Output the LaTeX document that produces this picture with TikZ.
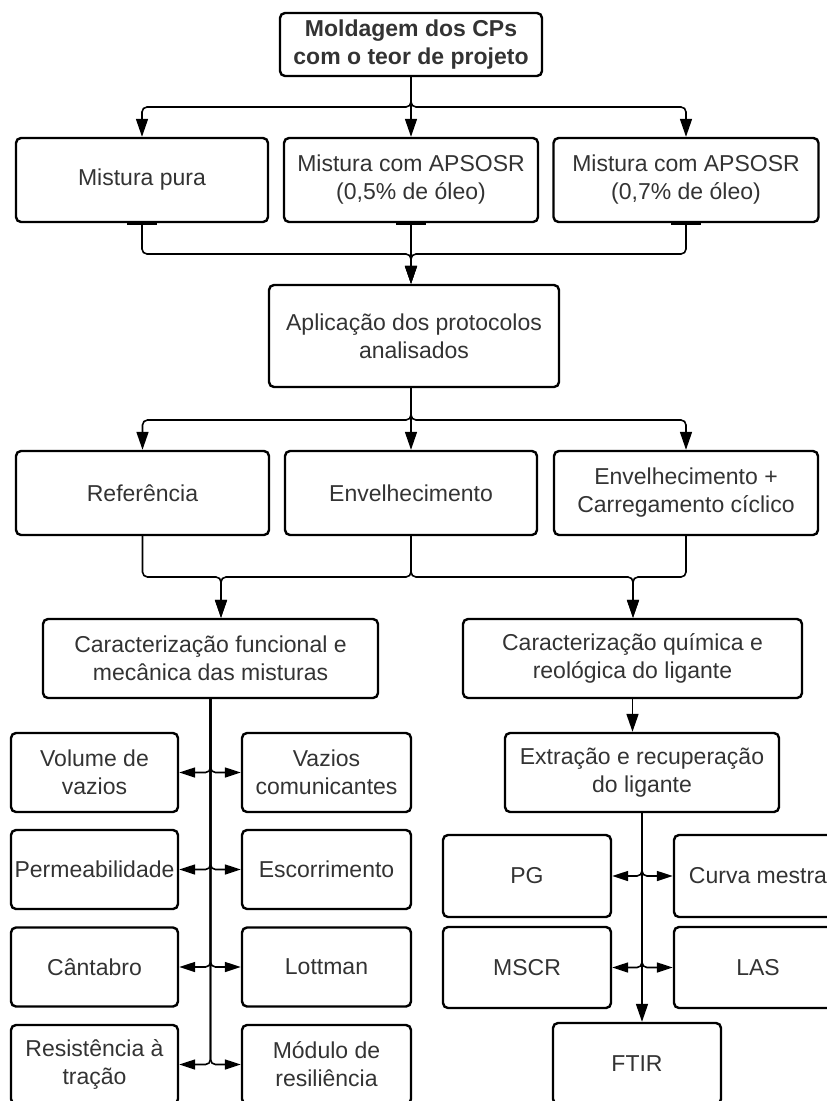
\documentclass[tikz,border=0pt]{standalone}
\usepackage{fontspec}
\setmainfont{Liberation Sans}
\usetikzlibrary{arrows.meta}

\begin{document}
\begin{tikzpicture}
        [x=1pt,y=-1pt,every node/.style={shape=rectangle,rounded corners=5pt,
        draw,line width=2.4pt,align=center,inner sep=2pt,text=black!80,
        font=\fontsize{23}{28}\selectfont},
        conn/.style={line width=1.6pt,rounded corners=5pt,
          -{Triangle[length=18pt,width=12pt]}},
        dconn/.style={line width=1.6pt,rounded corners=5pt,
          -{Triangle[length=16pt,width=10pt]}},
        tab/.style={line width=2.2pt}]
        \useasboundingbox (0,0) rectangle (827,1101);
        %% top
        \node[minimum width=262pt,minimum height=63pt] (mold) at (411,44.5)
          {\bfseries Moldagem dos CPs\\ \bfseries com o teor de projeto};
        \node[minimum width=252pt,minimum height=84pt] (pura) at (142,180) {Mistura pura};
        \node[minimum width=254pt,minimum height=84pt] (apsoA) at (411,180)
          {Mistura com APSOSR\\(0,5\% de óleo)};
        \node[minimum width=265pt,minimum height=84pt] (apsoB) at (686,180)
          {Mistura com APSOSR\\(0,7\% de óleo)};
        \node[minimum width=290pt,minimum height=102pt] (aplic) at (414,336)
          {Aplicação dos protocolos\\analisados};
        %% protocolos
        \node[minimum width=253pt,minimum height=84pt] (ref) at (142.5,493) {Referência};
        \node[minimum width=252pt,minimum height=84pt] (env) at (411,493) {Envelhecimento};
        \node[minimum width=264pt,minimum height=84pt] (envc) at (686,493)
          {Envelhecimento +\\Carregamento cíclico};
        \node[minimum width=335pt,minimum height=79pt] (cf) at (210.5,658.5)
          {Caracterização funcional e\\mecânica das misturas};
        \node[minimum width=339pt,minimum height=79pt] (cq) at (632.5,658.5)
          {Caracterização química e\\reológica do ligante};
        %% ensaios das misturas
        \node[minimum width=167pt,minimum height=79pt] (vv) at (94.5,772.5) {Volume de\\vazios};
        \node[minimum width=169pt,minimum height=79pt] (vc) at (326.5,772.5) {Vazios\\comunicantes};
        \node[minimum width=167pt,minimum height=79pt] (perm) at (94.5,869.5) {Permeabilidade};
        \node[minimum width=169pt,minimum height=79pt] (esc) at (326.5,869.5) {Escorrimento};
        \node[minimum width=167pt,minimum height=79pt] (cant) at (94.5,967) {Cântabro};
        \node[minimum width=169pt,minimum height=79pt] (lott) at (326.5,967) {Lottman};
        \node[minimum width=167pt,minimum height=79pt] (rt) at (94.5,1064.5) {Resistência à\\tração};
        \node[minimum width=169pt,minimum height=79pt] (mr) at (326.5,1064.5) {Módulo de\\resiliência};
        %% ensaios do ligante
        \node[minimum width=274pt,minimum height=79pt] (ext) at (642,772.5)
          {Extração e recuperação\\do ligante};
        \node[minimum width=168pt,minimum height=82pt] (pg) at (527,876) {PG};
        \node[minimum width=168pt,minimum height=82pt] (curva) at (758,876) {Curva mestra};
        \node[minimum width=168pt,minimum height=81pt] (mscr) at (527,967.5) {MSCR};
        \node[minimum width=168pt,minimum height=81pt] (las) at (758,967.5) {LAS};
        \node[minimum width=168pt,minimum height=81pt] (ftir) at (637,1063.5) {FTIR};
        %%
        \coordinate (busA) at (411,107);
        \coordinate (busB) at (411,254);
        \coordinate (busC) at (411,420);
        \coordinate (busL) at (221,577);
        \coordinate (busR) at (633,577);
        \foreach \endNode in {pura,apsoA,apsoB}
        {
          \draw[conn] (mold.south) -- (busA) -| (\endNode.north);
          \draw[tab] ([xshift=-15pt,yshift=-1pt]\endNode.south)
            -- ([xshift=15pt,yshift=-1pt]\endNode.south);
          \draw[conn] (\endNode.south) |- (busB) -- (busB |- aplic.north);
        }
        \foreach \endNode in {ref,env,envc}
        {
          \draw[conn] (aplic.south -| busC) -- (busC) -| (\endNode.north);
        }
        \foreach \startNode in {ref,env}
        {
          \draw[conn] (\startNode.south) |- (busL) -- (busL |- cf.north);
        }
        \foreach \startNode in {env,envc}
        {
          \draw[conn] (\startNode.south) |- (busR) -- (busR |- cq.north);
        }
        \draw[conn] (cq.south) -- (cq.south |- ext.north);
        \draw[conn] (ext.south) -- (ext.south |- ftir.north);
        \path
        \foreach \startNode/\endNode in {cf/vv,cf/vc,cf/perm,cf/esc,cf/cant,cf/lott,
          cf/rt,cf/mr,ext/pg,ext/curva,ext/mscr,ext/las}
        {
          (\startNode.south) edge[dconn,to path={|- (\tikztotarget)}] (\endNode)
        };
\end{tikzpicture}
\end{document}
